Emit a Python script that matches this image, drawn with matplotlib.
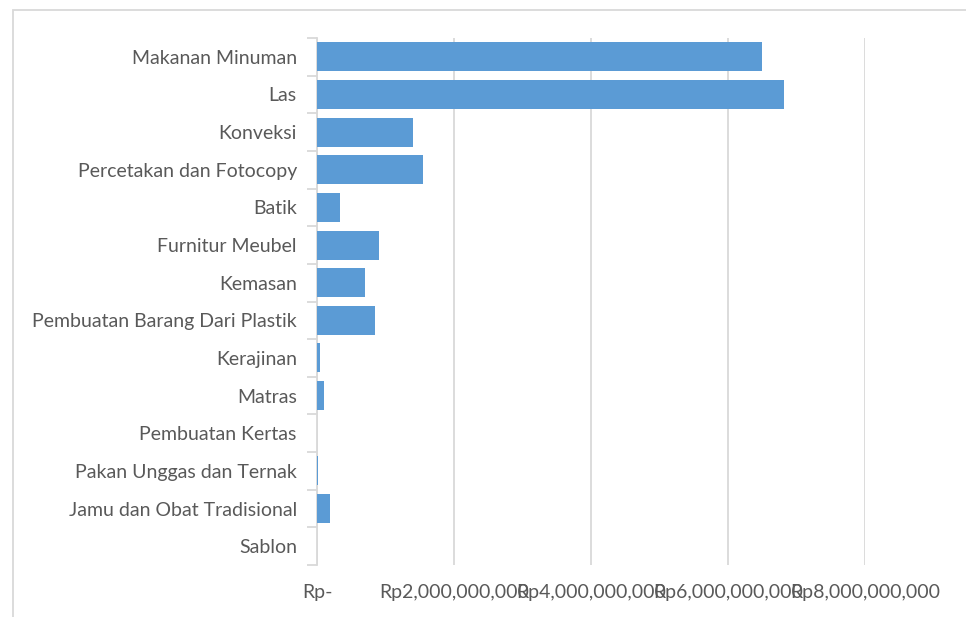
import matplotlib
matplotlib.use("Agg")
import matplotlib.pyplot as plt
import matplotlib.patches as mpatches
from matplotlib.ticker import FixedLocator
import numpy as np

categories = ["Makanan Minuman", "Las", "Konveksi", "Percetakan dan Fotocopy", "Batik",
              "Furnitur Meubel", "Kemasan", "Pembuatan Barang Dari Plastik", "Kerajinan",
              "Matras", "Pembuatan Kertas", "Pakan Unggas dan Ternak",
              "Jamu dan Obat Tradisional", "Sablon"]
values = [6.50e9, 6.82e9, 1.40e9, 1.55e9, 0.335e9, 0.905e9, 0.70e9, 0.85e9,
          0.045e9, 0.10e9, 0.0, 0.01e9, 0.19e9, 0.0]
xticks = [0, 2e9, 4e9, 6e9, 8e9]
xticklabels = ["Rp-", "Rp2,000,000,000", "Rp4,000,000,000", "Rp6,000,000,000", "Rp8,000,000,000"]

plt.rcParams['font.family'] = ['Lato', 'DejaVu Sans']
W, H = 966, 617
fig = plt.figure(figsize=(W/100, H/100), dpi=100)
ax = fig.add_axes([317/W, 1-565/H, (865-317)/W, (565-38)/H])

y = np.arange(len(categories))
ax.barh(y, values, height=0.77, color="#5B9BD5", linewidth=0, zorder=3)
ax.set_ylim(len(categories)-0.5, -0.5)
ax.set_xlim(0, 8e9)

grid_c = "#D9D9D9"
ax.set_xticks(xticks)
ax.set_xticklabels(xticklabels)
ax.xaxis.grid(True, color=grid_c, linewidth=1.3, zorder=0)
ax.tick_params(axis='x', length=0, pad=14, labelsize=14, labelcolor="#595959")

ax.set_yticks(y)
ax.set_yticklabels(categories)
ax.yaxis.set_minor_locator(FixedLocator(np.arange(-0.5, len(categories), 1.0)))
ax.tick_params(axis='y', which='major', length=0, pad=14.5, labelsize=14, labelcolor="#595959")
ax.tick_params(axis='y', which='minor', length=7, width=1.3, color=grid_c)

for s in ["top", "right", "bottom"]:
    ax.spines[s].set_visible(False)
ax.spines["left"].set_color(grid_c)
ax.spines["left"].set_linewidth(1.3)

border = mpatches.Rectangle((12.5/W, -0.1), 1.2, 1.1 - 9.5/H, transform=fig.transFigure,
                            fill=False, edgecolor=grid_c, linewidth=1.3, clip_on=False)
fig.patches.append(border)

fig.savefig("out.png", dpi=100, facecolor="white")
